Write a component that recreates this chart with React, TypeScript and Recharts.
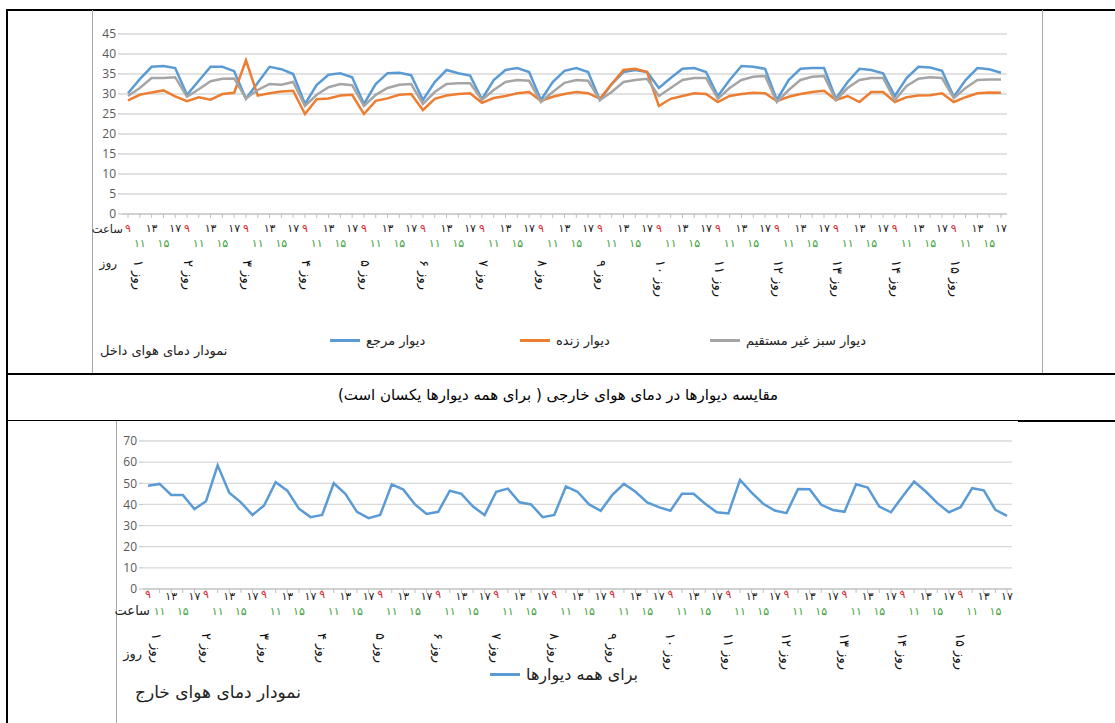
import { LineChart, Line, XAxis, YAxis, CartesianGrid } from "recharts";

const HOURS = ["۹", "۱۱", "۱۳", "۱۵", "۱۷"];
const DAYS = ["۱", "۲", "۳", "۴", "۵", "۶", "۷", "۸", "۹", "۱۰", "۱۱", "۱۲", "۱۳", "۱۴", "۱۵"];

// inside air temperature, 5 readings per day
const REF_WALL = [
  30.2, 33.7, 36.8, 37.0, 36.5,
  29.8, 33.3, 36.8, 36.8, 35.7,
  28.8, 32.8, 36.8, 36.2, 35.0,
  27.5, 32.3, 34.8, 35.2, 34.2,
  27.5, 32.5, 35.2, 35.3, 34.7,
  28.5, 33.0, 36.0, 35.2, 34.6,
  28.7, 33.5, 36.0, 36.5, 35.5,
  28.5, 33.0, 35.8, 36.5, 35.5,
  28.5, 32.5, 35.5, 36.0, 35.5,
  31.5, 34.0, 36.3, 36.5, 35.5,
  29.5, 33.5, 37.0, 36.8, 36.3,
  28.5, 33.5, 36.3, 36.5, 36.5,
  28.8, 33.0, 36.3, 36.0, 35.2,
  29.5, 34.0, 36.8, 36.6, 35.8,
  29.3, 33.5, 36.5, 36.2, 35.3,
];
const LIVING_WALL = [
  28.4, 29.8, 30.4, 30.9, 29.4,
  28.2, 29.2, 28.6, 30.0, 30.3,
  38.4, 29.6, 30.2, 30.6, 30.8,
  25.0, 28.7, 28.9, 29.6, 29.8,
  25.0, 28.3, 28.9, 29.8, 30.0,
  26.0, 28.8, 29.6, 30.0, 30.2,
  27.8, 29.0, 29.5, 30.2, 30.5,
  28.3, 29.3, 30.0, 30.5, 30.2,
  28.8, 32.5, 36.0, 36.3, 35.5,
  27.0, 28.8, 29.5, 30.2, 30.0,
  28.0, 29.5, 30.0, 30.3, 30.2,
  28.2, 29.3, 30.0, 30.5, 30.8,
  28.5, 29.5, 28.0, 30.5, 30.5,
  28.0, 29.2, 29.6, 29.7, 30.2,
  28.0, 29.2, 30.2, 30.4, 30.3,
];
const INDIRECT_WALL = [
  29.5, 31.5, 34.0, 34.0, 34.2,
  29.3, 31.2, 33.2, 33.8, 33.9,
  28.9, 31.0, 32.5, 32.3, 33.0,
  27.0, 29.8, 31.7, 32.5, 32.2,
  27.0, 29.8, 31.5, 32.3, 32.5,
  27.5, 30.5, 32.5, 32.7, 32.7,
  28.5, 31.0, 33.0, 33.5, 33.3,
  28.0, 30.5, 32.8, 33.5, 33.3,
  28.5, 30.5, 33.0, 33.5, 33.8,
  29.5, 31.5, 33.5, 34.0, 34.0,
  28.8, 31.5, 33.5, 34.3, 34.5,
  28.0, 31.0, 33.5, 34.3, 34.5,
  28.5, 31.5, 33.5, 34.0, 34.0,
  28.5, 32.0, 33.8, 34.2, 34.0,
  29.0, 31.5, 33.5, 33.6, 33.6,
];
// outside air temperature (same for all walls)
const OUTSIDE_AIR = [
  48.8, 49.7, 44.5, 44.5, 37.8,
  41.5, 58.5, 45.5, 41.0, 35.0,
  39.5, 50.5, 46.5, 38.0, 34.0,
  35.0, 50.0, 45.0, 36.5, 33.5,
  35.0, 49.5, 47.0, 40.0, 35.5,
  36.5, 46.5, 45.0, 39.0, 35.0,
  46.0, 47.5, 41.0, 40.0, 34.0,
  35.0, 48.5, 46.0, 40.0, 37.0,
  44.5, 49.7, 46.0, 41.0, 38.7,
  37.0, 45.0, 45.0, 40.3, 36.3,
  35.7, 51.6, 45.6, 40.3, 37.1,
  35.9, 47.3, 47.2, 39.8, 37.4,
  36.5, 49.5, 48.0, 39.0, 36.3,
  43.7, 50.8, 46.1, 40.6, 36.3,
  38.7, 47.7, 46.7, 37.4, 34.6,
];

const INSIDE_TICKS = [0, 5, 10, 15, 20, 25, 30, 35, 40, 45];
const OUTSIDE_TICKS = [0, 10, 20, 30, 40, 50, 60, 70];

const SERIES_NAMES = ["دیوار مرجع", "دیوار زنده", "دیوار سبز غیر مستقیم"];
const OUTSIDE_NAME = "برای همه دیوارها";
const HOUR_WORD = "ساعت";
const DAY_WORD = "روز";

const BLUE = "#5b9bd5";
const ORANGE = "#ed7d31";
const GRAY = "#a5a5a5";
const HOUR_COLORS = ["#e0262c", "#3ea33a", "#222", "#3ea33a", "#222"];
const FA_FONT = "'DejaVu Sans', sans-serif";

const rows = DAYS.flatMap((d, di) =>
  HOURS.map((h, hi) => {
    const i = di * 5 + hi;
    return {
      key: `${di}-${hi}`,
      ref: REF_WALL[i],
      living: LIVING_WALL[i],
      indirect: INDIRECT_WALL[i],
      outside: OUTSIDE_AIR[i],
    };
  })
);

type TickCfg = {
  axisY: number;
  nineY: number;
  row1Y: number;
  row2Y: number;
  dayY: number;
  dayDx: number;
};

function HourTick(props: any) {
  const cfg: TickCfg = props.cfg;
  const x: number = props.x;
  const idx: number = props.payload?.index ?? props.index;
  const di = Math.floor(idx / 5);
  const hi = idx % 5;
  const y0 = cfg.axisY;
  const ty = hi === 0 ? cfg.nineY : hi % 2 === 0 ? cfg.row1Y : cfg.row2Y;
  return (
    <g fontFamily={FA_FONT}>
      <text x={x} y={y0 + ty} fontSize={11} fill={HOUR_COLORS[hi]} textAnchor="middle">
        {HOURS[hi]}
      </text>
      {hi === 0 && (
        <text
          transform={`translate(${x + cfg.dayDx + (di === 0 ? 8 : 0)}, ${y0 + cfg.dayY}) rotate(90)`}
          fontSize={13}
          fill="#111"
          dominantBaseline="central"
        >
          {`${DAY_WORD} ${DAYS[di]}`}
        </text>
      )}
    </g>
  );
}

const TICK1: TickCfg = { axisY: 204, nineY: 18, row1Y: 18, row2Y: 33, dayY: 46, dayDx: 2 };
const TICK2: TickCfg = { axisY: 168, nineY: 9, row1Y: 11, row2Y: 26, dayY: 44, dayDx: 0 };

const yTick = { fontSize: 12, fill: "#595959", fontFamily: "'Open Sans', sans-serif" };

function LegendItem({ color, label, left, top, size }: { color: string; label: string; left: number; top: number; size: number }) {
  return (
    <div style={{ position: "absolute", left, top, display: "flex", alignItems: "center", fontFamily: FA_FONT, fontSize: size, whiteSpace: "nowrap", color: "#222" }}>
      <span style={{ display: "inline-block", width: 30, height: 2.5, background: color, marginRight: 6 }} />
      <span dir="rtl">{label}</span>
    </div>
  );
}

function Word({ text, right, top, size }: { text: string; right: number; top: number; size: number }) {
  return (
    <div dir="rtl" style={{ position: "absolute", right: 1115 - right, top, fontFamily: FA_FONT, fontSize: size, lineHeight: 1, color: "#222", whiteSpace: "nowrap" }}>
      {text}
    </div>
  );
}

const abs = (left: number, top: number, width: number, height: number, background = "#000"): React.CSSProperties => ({
  position: "absolute", left, top, width, height, background,
});

export default function App() {
  return (
    <div style={{ position: "absolute", left: 0, top: 0, width: 1115, height: 723, background: "#fff", overflow: "hidden" }}>
      {/* table frame */}
      <div style={abs(6, 9, 2, 714)} />
      <div style={abs(6, 9, 1109, 2)} />
      <div style={abs(6, 373, 1109, 2)} />
      <div style={abs(6, 420, 1012, 1)} />
      <div style={abs(1018, 420, 97, 2)} />
      {/* chart frames */}
      <div style={{ position: "absolute", left: 92, top: 10, width: 949, height: 363, borderLeft: "1px solid #a6a6a6", borderRight: "1px solid #a6a6a6" }} />
      <div style={abs(116, 421, 1, 302, "#a6a6a6")} />

      <div style={{ position: "absolute", left: 92, top: 10 }}>
        <LineChart width={950} height={364} data={rows} margin={{ top: 24, right: 35, bottom: 80, left: 0 }}>
          <CartesianGrid vertical={false} stroke="#d9d9d9" strokeWidth={1.3} />
          <XAxis
            dataKey="key"
            interval={0}
            height={80}
            padding={{ left: 6, right: 6 }}
            tickSize={4}
            axisLine={{ stroke: "#bfbfbf" }}
            tickLine={{ stroke: "#bfbfbf" }}
            tick={(p: any) => <HourTick {...p} cfg={TICK1} />}
          />
          <YAxis
            width={30}
            domain={[0, 45]}
            ticks={INSIDE_TICKS}
            interval={0}
            axisLine={false}
            tickSize={4}
            tickLine={{ stroke: "#bfbfbf" }}
            tick={yTick}
          />
          <Line type="linear" dataKey="ref" stroke={BLUE} strokeWidth={2.5} dot={false} isAnimationActive={false} />
          <Line type="linear" dataKey="living" stroke={ORANGE} strokeWidth={2.5} dot={false} isAnimationActive={false} />
          <Line type="linear" dataKey="indirect" stroke={GRAY} strokeWidth={2.5} dot={false} isAnimationActive={false} />
        </LineChart>
      </div>
      <Word text={HOUR_WORD} right={123} top={224} size={11.5} />
      <Word text={DAY_WORD} right={117} top={257} size={12} />
      <LegendItem color={BLUE} label={SERIES_NAMES[0]} left={330} top={333} size={13} />
      <LegendItem color={ORANGE} label={SERIES_NAMES[1]} left={520} top={333} size={13} />
      <LegendItem color={GRAY} label={SERIES_NAMES[2]} left={710} top={333} size={13} />
      <div dir="rtl" style={{ position: "absolute", left: 100, top: 343, fontFamily: FA_FONT, fontSize: 13, color: "#222", whiteSpace: "nowrap" }}>
        نمودار دمای هوای داخل
      </div>

      <div dir="rtl" style={{ position: "absolute", left: 8, width: 1100, top: 386, textAlign: "center", fontFamily: FA_FONT, fontSize: 15, color: "#000" }}>
        مقایسه دیوارها در دمای هوای خارجی ( برای همه دیوارها یکسان است)
      </div>

      <div style={{ position: "absolute", left: 116, top: 421 }}>
        <LineChart width={902} height={302} data={rows} margin={{ top: 20, right: 6, bottom: 64, left: 0 }}>
          <CartesianGrid vertical={false} stroke="#d9d9d9" strokeWidth={1.3} />
          <XAxis
            dataKey="key"
            interval={0}
            height={70}
            padding={{ left: 5, right: 5 }}
            tickSize={4}
            axisLine={{ stroke: "#bfbfbf" }}
            tickLine={{ stroke: "#bfbfbf" }}
            tick={(p: any) => <HourTick {...p} cfg={TICK2} />}
          />
          <YAxis
            width={27}
            domain={[0, 70]}
            ticks={OUTSIDE_TICKS}
            interval={0}
            axisLine={false}
            tickSize={4}
            tickLine={{ stroke: "#bfbfbf" }}
            tick={yTick}
          />
          <Line type="linear" dataKey="outside" stroke={BLUE} strokeWidth={2.5} dot={false} isAnimationActive={false} />
        </LineChart>
      </div>
      <Word text={HOUR_WORD} right={150} top={604} size={13} />
      <Word text={DAY_WORD} right={142} top={647} size={13} />
      <LegendItem color={BLUE} label={OUTSIDE_NAME} left={490} top={665} size={16} />
      <div dir="rtl" style={{ position: "absolute", left: 135, top: 682, fontFamily: FA_FONT, fontSize: 17, color: "#222", whiteSpace: "nowrap" }}>
        نمودار دمای هوای خارج
      </div>
    </div>
  );
}
